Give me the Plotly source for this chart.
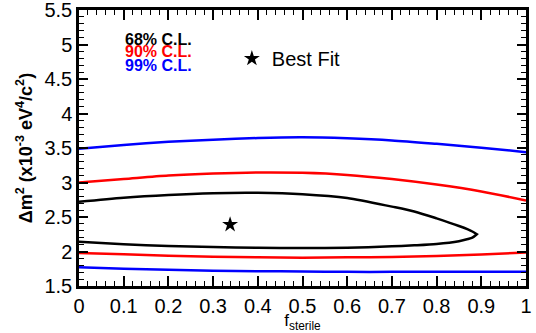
import plotly.graph_objects as go

# ---- data ----
f_68 = [0, 0.1, 0.2, 0.3, 0.4, 0.5, 0.6, 0.7, 0.75, 0.8, 0.85, 0.87, 0.88, 0.89]
up_68 = [2.72, 2.78, 2.82, 2.845, 2.85, 2.83, 2.775, 2.65, 2.58, 2.48, 2.37, 2.32, 2.29, 2.25]
lo_68 = [2.14, 2.105, 2.08, 2.065, 2.055, 2.05, 2.055, 2.075, 2.09, 2.11, 2.15, 2.18, 2.20, 2.25]

f_grid = [0, 0.1, 0.2, 0.3, 0.4, 0.5, 0.6, 0.7, 0.8, 0.9, 1.0]
up_90 = [3.00, 3.05, 3.10, 3.13, 3.145, 3.14, 3.11, 3.05, 2.97, 2.87, 2.74]
lo_90 = [1.98, 1.96, 1.94, 1.925, 1.915, 1.91, 1.915, 1.92, 1.935, 1.955, 1.985]
up_99 = [3.49, 3.545, 3.59, 3.62, 3.645, 3.655, 3.64, 3.61, 3.56, 3.505, 3.44]
lo_99 = [1.77, 1.75, 1.735, 1.72, 1.715, 1.71, 1.705, 1.705, 1.705, 1.705, 1.705]

best_f = [0.338]
best_dm = [2.39]

cl_labels = ["68% C.L.", "90% C.L.", "99% C.L."]
cl_colors = ["#000000", "#ff0000", "#0000ff"]

FONT = "Liberation Sans, Arial, Helvetica, sans-serif"

fig = go.Figure()

line_kw = dict(shape="spline", smoothing=0.8, width=2.5)

# 68% closed contour
fig.add_trace(go.Scatter(
    x=f_68 + f_68[::-1], y=up_68 + lo_68[::-1], mode="lines",
    line=dict(color=cl_colors[0], **line_kw), showlegend=False, hoverinfo="skip"))

# 90% and 99% open contours
for ups, los, col in [(up_90, lo_90, cl_colors[1]), (up_99, lo_99, cl_colors[2])]:
    for ys in (ups, los):
        fig.add_trace(go.Scatter(
            x=f_grid, y=ys, mode="lines",
            line=dict(color=col, **line_kw), showlegend=False, hoverinfo="skip"))

# best fit point
fig.add_trace(go.Scatter(
    x=best_f, y=best_dm, mode="markers", name="Best Fit",
    marker=dict(symbol="star", size=12, color="black"),
    showlegend=True))

# C.L. labels
ys_lab = [0.893, 0.848, 0.799]
for lab, col, yy in zip(cl_labels, cl_colors, ys_lab):
    fig.add_annotation(
        x=0.098, y=yy, xref="paper", yref="paper", xanchor="left", yanchor="middle",
        text="<b>%s</b>" % lab, showarrow=False,
        font=dict(family=FONT, size=16, color=col))

axis_common = dict(
    showline=True, linecolor="black", linewidth=2.5, mirror="ticks",
    ticks="inside", tickcolor="black", tickwidth=1.5,
    showgrid=False, zeroline=False, automargin=False,
    ticklabeloverflow="allow",
    tickfont=dict(family=FONT, size=20, color="black"),
)

fig.update_layout(
    width=536, height=333,
    margin=dict(l=79, r=10, t=10, b=47),
    paper_bgcolor="white", plot_bgcolor="white",
    font=dict(family=FONT, color="black"),
    xaxis=dict(
        range=[0, 1], dtick=0.1, tick0=0, ticklen=10,
        minor=dict(dtick=0.02, ticklen=5, ticks="inside", tickcolor="black", tickwidth=1),
        title=dict(text="f<sub>sterile</sub>", font=dict(family=FONT, size=17), standoff=0),
        **axis_common),
    yaxis=dict(
        range=[1.5, 5.5], dtick=0.5, tick0=1.5, ticklen=9,
        minor=dict(dtick=0.1, ticklen=5, ticks="inside", tickcolor="black", tickwidth=1),
        title=dict(text="<b>Δm<sup>2</sup> (x10<sup>-3</sup> eV<sup>4</sup>/c<sup>2</sup>)</b>",
                   font=dict(family=FONT, size=18), standoff=8),
        **axis_common),
    legend=dict(
        x=0.342, y=0.895, xanchor="left", yanchor="top",
        bgcolor="rgba(0,0,0,0)", borderwidth=0,
        font=dict(family=FONT, size=20, color="black")),
)

fig.write_html("out.html", config={"displayModeBar": False},
               post_script="document.body.style.margin='0';")
